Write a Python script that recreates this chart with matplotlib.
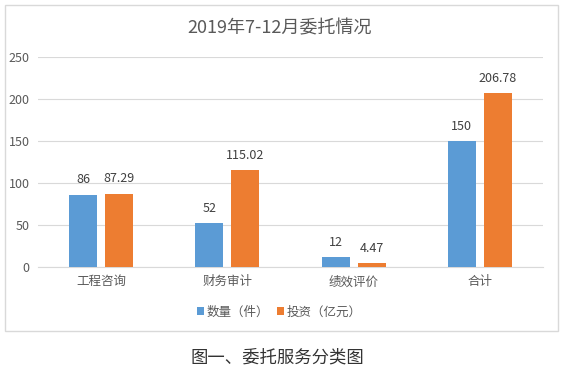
import matplotlib
matplotlib.use("Agg")
import matplotlib.pyplot as plt
from matplotlib.patches import Rectangle
import numpy as np

plt.rcParams['font.family'] = ['Noto Sans CJK SC', 'DejaVu Sans']

categories = ['工程咨询', '财务审计', '绩效评价', '合计']
counts = [86, 52, 12, 150]
invest = [87.29, 115.02, 4.47, 206.78]
count_labels = ['86', '52', '12', '150']
invest_labels = ['87.29', '115.02', '4.47', '206.78']
series_names = ['数量（件）', '投资（亿元）']
title = '2019年7-12月委托情况'
caption = '图一、委托服务分类图'

blue = '#5B9BD5'
orange = '#ED7D31'
txt = '#595959'

fig = plt.figure(figsize=(5.66, 3.75), dpi=100)
fig.patch.set_facecolor('white')

# chart frame
fig.patches.append(Rectangle((5/566, 1-331/375), 553/566, 326/375, transform=fig.transFigure,
                             facecolor='white', edgecolor='#D9D9D9', linewidth=1, zorder=-5))

ax = fig.add_axes([38/566, 1-267/375, 505/566, 210/375])
ax.set_zorder(2)
ax.set_facecolor('none')
x = np.arange(len(categories))
w = 0.222
off = 0.143
b1 = ax.bar(x - off, counts, w, color=blue, label=series_names[0], zorder=3)
b2 = ax.bar(x + off, invest, w, color=orange, label=series_names[1], zorder=3)
for rect, lab in zip(b1, count_labels):
    ax.annotate(lab, (rect.get_x() + rect.get_width()/2, rect.get_height()), xytext=(0, 6),
                textcoords='offset points', ha='center', va='bottom', fontsize=9, color='#404040')
for rect, lab in zip(b2, invest_labels):
    ax.annotate(lab, (rect.get_x() + rect.get_width()/2, rect.get_height()), xytext=(0, 6),
                textcoords='offset points', ha='center', va='bottom', fontsize=9, color='#404040')

ax.set_xlim(-0.5, len(categories) - 0.5)
ax.set_ylim(0, 250)
ax.set_yticks([0, 50, 100, 150, 200, 250])
ax.set_xticks(x)
ax.set_xticklabels(categories)
ax.grid(axis='y', color='#D9D9D9', linewidth=0.8, zorder=0)
for s in ['top', 'right', 'left']:
    ax.spines[s].set_visible(False)
ax.spines['bottom'].set_color('#D9D9D9')
ax.tick_params(axis='both', length=0, colors=txt, labelsize=9)
ax.tick_params(axis='y', pad=6)
ax.tick_params(axis='x', pad=6, labelsize=9)

fig.text(280/566, 1-28/375, title, ha='center', va='center', fontsize=13, color=txt)
fig.legend(handles=[b1, b2], labels=series_names, loc='center', bbox_to_anchor=(279/566, 1-312/375),
           ncol=2, frameon=False, fontsize=9, handlelength=0.6, handleheight=0.6,
           handletextpad=0.2, columnspacing=0.6, labelcolor=txt)
fig.text(277/566, 1-357/375, caption, ha='center', va='center', fontsize=12.5,
         color='#333333', fontweight='light')

fig.savefig('out.png', dpi=100)
